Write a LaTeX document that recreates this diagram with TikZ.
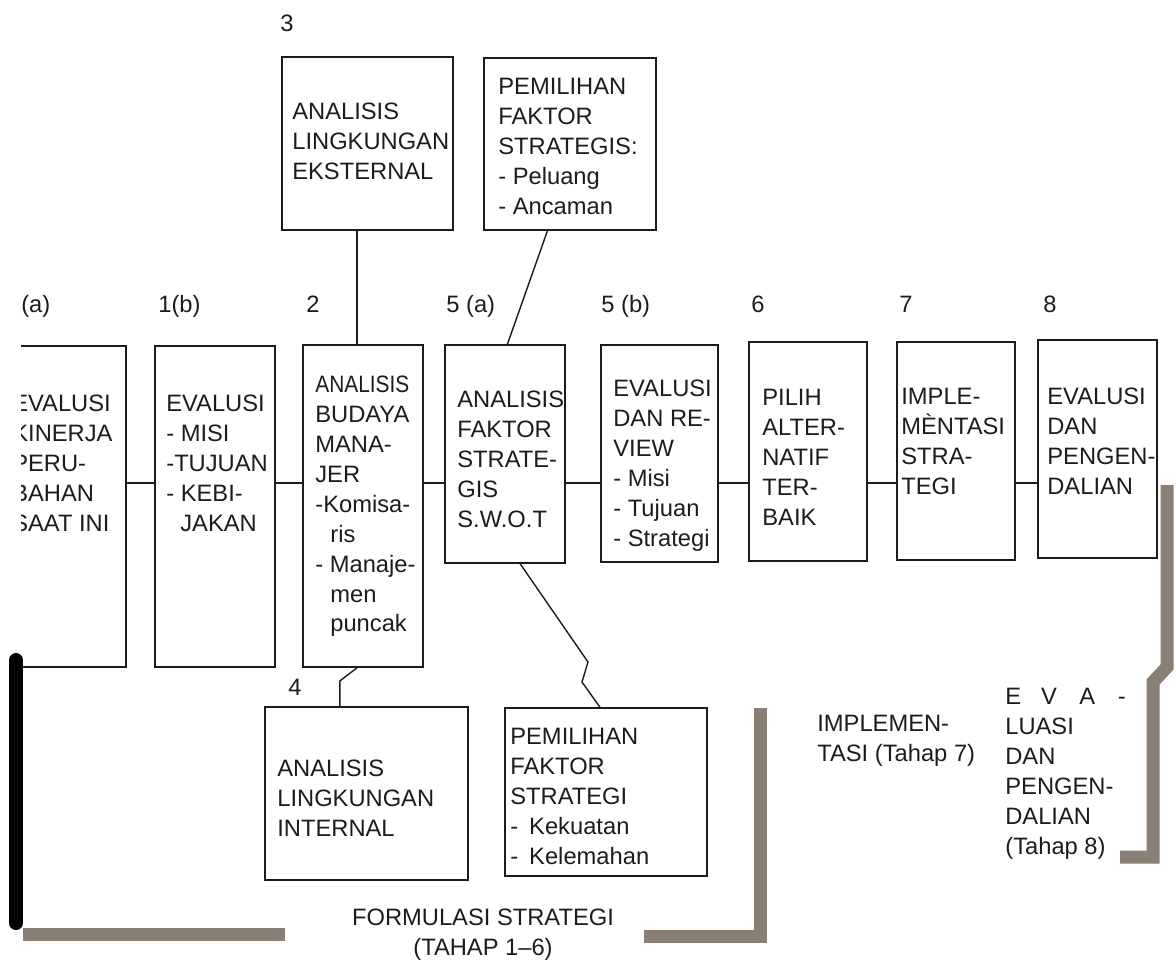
\documentclass[tikz,border=0pt]{standalone}
\usepackage{fontspec}
\usepackage{graphicx}
\setmainfont{Liberation Sans}
\usetikzlibrary{calc,fit}

\definecolor{inkgray}{RGB}{28,28,28}
\definecolor{barbrown}{RGB}{138,127,117}

\begin{document}
\begin{tikzpicture}[
    x=0.02cm, y=-0.02cm,
    box/.style={draw=inkgray, line width=1pt, inner sep=0pt},
    txt/.style={inner sep=0pt, anchor=north west, align=left, text=inkgray, font=\fontsize{13.5}{17}\selectfont},
    num/.style={inner sep=0pt, anchor=base west, text=inkgray, font=\fontsize{13.5}{17}\selectfont},
    link/.style={draw=inkgray, line width=0.8pt, line join=round},
    bar/.style={draw=barbrown, line width=0.26cm}
  ]
  \useasboundingbox (0,0) rectangle (1176,965);

  \begin{scope}
    \clip (21,330) rectangle (140,680);
    \node[box, fit={(-10,346) (126,667)}] (b1a) {};
    \node[txt] (t1a) at (12,395) {EVALUSI\\KINERJA\\PERU-\\BAHAN\\SAAT INI};
  \end{scope}

  \node[box, fit={(155,346) (275,667)}] (b1b) {};
  \node[box, fit={(303,345) (423,667)}] (b2) {};
  \node[box, fit={(445,345) (565,563)}] (b5a) {};
  \node[box, fit={(601,345) (718,562)}] (b5b) {};
  \node[box, fit={(749,342) (867,561)}] (b6) {};
  \node[box, fit={(897,342) (1015,560)}] (b7) {};
  \node[box, fit={(1038,340) (1157,558)}] (b8) {};
  \node[box, fit={(282,57) (453,230)}] (ext) {};
  \node[box, fit={(484,58) (656,230)}] (pft) {};
  \node[box, fit={(265,707) (468,880)}] (b4) {};
  \node[box, fit={(505,708) (707,876)}] (pfs) {};

  \node[txt] (t1b) at (166,395) {EVALUSI\\- MISI\\-TUJUAN\\- KEBI-\\\hspace*{0.28cm}JAKAN};
  \node[txt] (t2) at (315,376) {\scalebox{0.88}[1]{\fontsize{13.5}{17}\selectfont ANALISIS}\\BUDAYA\\MANA-\\JER\\-Komisa-\\\hspace*{0.3cm}ris\\- Manaje-\\\hspace*{0.3cm}men\\\hspace*{0.3cm}puncak};
  \node[txt] (t5a) at (457,391) {ANALISIS\\FAKTOR\\STRATE-\\GIS\\S.W.O.T};
  \node[txt] (t5b) at (613,380) {EVALUSI\\DAN RE-\\VIEW\\- Misi\\- Tujuan\\- Strategi};
  \node[txt] (t6) at (762,389) {PILIH\\ALTER-\\NATIF\\TER-\\BAIK};
  \node[txt] (t7) at (901,388) {IMPLE-\\MÈNTASI\\STRA-\\TEGI};
  \node[txt] (t8) at (1047,388) {EVALUSI\\DAN\\PENGEN-\\DALIAN};
  \node[txt] (t3) at (292,103) {ANALISIS\\LINGKUNGAN\\EKSTERNAL};
  \node[txt] (tpft) at (498,78) {PEMILIHAN\\FAKTOR\\STRATEGIS:\\- Peluang\\- Ancaman};
  \node[txt] (t4) at (277,760) {ANALISIS\\LINGKUNGAN\\INTERNAL};
  \node[txt] (tpfs) at (510,728) {PEMILIHAN\\FAKTOR\\STRATEGI\\-\hspace{0.22cm}Kekuatan\\-\hspace{0.22cm}Kelemahan};

  \node[num] (n1a) at (21,312) {(a)};
  \node[num] (n1b) at (158,312) {1(b)};
  \node[num] (n2) at (306,312) {2};
  \node[num] (n5a) at (446,312) {5 (a)};
  \node[num] (n5b) at (601,312) {5 (b)};
  \node[num] (n6) at (751,312) {6};
  \node[num] (n7) at (899,312) {7};
  \node[num] (n8) at (1043,312) {8};
  \node[num] (n3) at (280,31) {3};
  \node[num] (n4) at (288,695) {4};

  \coordinate (row) at (0,483);
  \foreach \a/\b in {b1a/b1b, b1b/b2, b2/b5a, b5a/b5b, b5b/b6, b6/b7, b7/b8}
    \draw[link] (\a.east |- row) -- (\b.west |- row);
  \coordinate (k2n) at ($(b2.north west)!0.45!(b2.north east)$);
  \draw[link] (k2n |- ext.south) -- (k2n);
  \draw[link] ($(pft.south west)!0.37!(pft.south east)$) -- ($(b5a.north west)!0.52!(b5a.north east)$);
  \draw[link] ($(b2.south west)!0.45!(b2.south east)$) -- ++(-17,13) -- ($(b4.north west)!0.37!(b4.north east)$);
  \draw[link] ($(b5a.south west)!0.625!(b5a.south east)$) -- (588,662) -- (582,682) -- ($(pfs.north west)!0.47!(pfs.north east)$);

  \draw[bar] (23,934) -- (285,934);
  \draw[bar] (644,936) -- (760,936) -- (760,708);
  \draw[bar] (1167,485) -- (1167,667) -- (1153,682) -- (1153,857) -- (1120,857);
  \draw[line width=0.28cm, line cap=round] (16,660) -- (16,923);

  \node[txt, anchor=north, align=center] (form) at (483,909) {FORMULASI STRATEGI\\(TAHAP 1–6)};
  \node[txt] (impl) at (817,715) {IMPLEMEN-\\TASI (Tahap 7)};
  \node[txt] (evtx) at (1005,688) {E\hspace{0.4cm}V\hspace{0.45cm}A\hspace{0.45cm}-\\LUASI\\DAN\\PENGEN-\\DALIAN\\(Tahap 8)};
\end{tikzpicture}
\end{document}
